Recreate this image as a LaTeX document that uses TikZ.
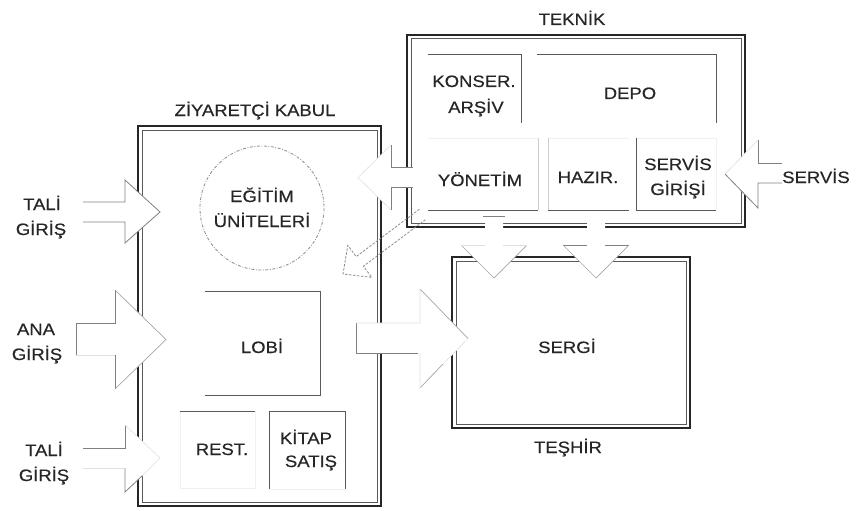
\documentclass[tikz,border=0pt]{standalone}
\usepackage{fontspec}
\setmainfont[FakeStretch=1.12,FakeBold=0.4]{Liberation Sans}
\begin{document}
\begin{tikzpicture}[x=1pt,y=-1pt,
  outerwall/.style={line width=1.8pt, draw=black!85},
  innerwall/.style={line width=1pt, draw=black!65},
  room/.style={line width=0.9pt, draw=black!65},
  faintline/.style={line width=0.6pt, draw=black!6},
  arrowfill/.style={fill=white, draw=none},
  arrowline/.style={line width=0.8pt, draw=black!50, line join=miter},
  arrowmid/.style={line width=0.7pt, draw=black!35},
  arrowfaint/.style={line width=0.6pt, draw=black!12},
  dasharrow/.style={line width=0.8pt, draw=black!45, dash pattern=on 2.5pt off 1.5pt},
  lbl/.style={font=\fontsize{16.5}{19}\selectfont, text=black!85, inner sep=0pt, anchor=base}
]
\useasboundingbox (0,0) rectangle (857,511);
\fill[white] (0,0) rectangle (857,511);

% ---------- walls ----------
\draw[outerwall] (138,126) rectangle (381,506);
\draw[innerwall] (142,130) rectangle (377,502);
\draw[outerwall] (407,35) rectangle (745,227);
\draw[innerwall] (411,39) rectangle (741,223);
\draw[outerwall] (452,257) rectangle (690,428);
\draw[innerwall] (456,261) rectangle (686,424);

% ---------- rooms: Teknik ----------
\draw[room] (428,54) -- (521,54) -- (521,123);
\draw[room] (537,54) -- (716,54) -- (716,123);
\draw[faintline] (428,138) -- (538,138) (548,138) -- (629,138) (636,138) -- (716,138) -- (716,210);
\draw[line width=0.7pt, draw=black!20] (538,138) -- (538,210) (548,138) -- (548,210);
\draw[room] (428,210) -- (538,210);
\draw[room] (548,210) -- (629,210);
\draw[room] (636,138) -- (636,210) -- (716,210);

% ---------- rooms: Ziyaretci ----------
\draw[room] (205,291) -- (320,291) -- (320,395) -- (205,395);
\draw[faintline] (180,411) -- (180,488) -- (255,488) -- (255,411);
\draw[room] (180,411) -- (255,411);
\draw[faintline] (269,489) -- (345,489);
\draw[room] (269,489) -- (269,411) -- (345,411) -- (345,489);
\draw[line width=0.8pt, draw=black!45, dash pattern=on 3pt off 1.6pt on 0.8pt off 1.6pt] (262,208) circle[radius=62];

% ---------- arrows ----------
% upper TALI GIRIS
\fill[arrowfill] (83,202) -- (125,202) -- (125,180) -- (160,212) -- (125,243) -- (125,222) -- (83,222) -- cycle;
\draw[arrowline] (83,202) -- (125,202) -- (125,180) -- (160,212) -- (125,243) -- (125,222) -- (83,222);
% ANA GIRIS
\fill[arrowfill] (76,323) -- (115,323) -- (115,290) -- (166,339.5) -- (115,389) -- (115,355) -- (76,355) -- cycle;
\draw[arrowline] (76,355) -- (76,323) -- (115,323) -- (115,290);
\draw[arrowline] (115,355) -- (115,389);
\draw[arrowmid] (115,290) -- (166,339.5) -- (115,389);
\draw[arrowfaint] (76,355) -- (115,355);
% lower TALI GIRIS
\fill[arrowfill] (83,448) -- (125,448) -- (125,425) -- (160,458) -- (125,492) -- (125,468) -- (83,468) -- cycle;
\draw[arrowline] (83,448) -- (125,448) -- (125,425);
\draw[arrowline] (125,468) -- (125,492) -- (142,476);
\draw[arrowfaint] (125,425) -- (160,458) -- (142,476);
\draw[arrowfaint] (83,468) -- (125,468);
% YONETIM -> Ziyaretci
\fill[arrowfill] (413,167) -- (391,167) -- (391,145) -- (358,177.5) -- (391,210) -- (391,187) -- (413,187) -- cycle;
\draw[arrowline] (413,167) -- (391,167) -- (391,145);
\draw[arrowline] (413,187) -- (391,187) -- (391,210);
\draw[arrowfaint] (391,145) -- (358,177.5) -- (391,210);
% dashed diagonal arrow
\draw[dasharrow] (419.4,209.2) -- (356.2,256.6) -- (347.8,245.4) -- (343,274) -- (371.8,277.4) -- (363.4,266.2) -- (426.6,218.8);
% down arrow 1
\fill[arrowfill] (485,216) -- (503,216) -- (503,245) -- (527,245) -- (494,278) -- (461,245) -- (485,245) -- cycle;
\draw[arrowline] (483,216) -- (505,216);
\draw[arrowmid] (461,245) -- (494,278) -- (527,245);
\draw[arrowfaint] (461,245) -- (485,245) (503,245) -- (527,245);
% down arrow 2
\fill[arrowfill] (587,216) -- (605,216) -- (605,245) -- (629,245) -- (596,278) -- (563,245) -- (587,245) -- cycle;
\draw[arrowline] (563,245) -- (587,245) (605,245) -- (629,245);
\draw[arrowmid] (563,245) -- (596,278) -- (629,245);
% LOBI -> SERGI
\fill[arrowfill] (356,323) -- (420,323) -- (420,289) -- (468,338.5) -- (420,388) -- (420,353) -- (356,353) -- cycle;
\draw[arrowline] (356,323) -- (356,353) -- (418,353);
\draw[arrowmid] (420,289) -- (468,338.5);
\draw[arrowmid] (420,388) -- (443,364);
\draw[arrowfaint] (356,323) -- (420,323) -- (420,289) (420,353) -- (420,388) (443,364) -- (468,338.5);
% SERVIS
\fill[arrowfill] (782,163) -- (758,163) -- (758,140) -- (725,174) -- (758,208) -- (758,183) -- (782,183) -- cycle;
\draw[arrowline] (782,163) -- (758,163) -- (758,140);
\draw[arrowline] (782,183) -- (758,183) -- (758,208) -- (725,174);
\draw[arrowfaint] (758,140) -- (725,174);

% ---------- labels ----------
\node[lbl] (teknik) at (572,25) {TEKNİK};
\node[lbl] (ziyaret) at (255,116) {ZİYARETÇİ KABUL};
\node[lbl] (tali1a) at (42,210) {TALİ};
\node[lbl] (tali1b) at (41,235) {GİRİŞ};
\node[lbl] (anaa) at (36,335) {ANA};
\node[lbl] (anab) at (37,360) {GİRİŞ};
\node[lbl] (tali2a) at (44,456) {TALİ};
\node[lbl] (tali2b) at (44,481) {GİRİŞ};
\node[lbl] (egita) at (262,202) {EĞİTİM};
\node[lbl] (egitb) at (262,227) {ÜNİTELERİ};
\node[lbl] (lobi) at (262,353) {LOBİ};
\node[lbl] (rest) at (222,455) {REST.};
\node[lbl] (kitapa) at (306,444) {KİTAP};
\node[lbl] (kitapb) at (311,467) {SATIŞ};
\node[lbl] (konsa) at (474,87) {KONSER.};
\node[lbl] (konsb) at (476,113) {ARŞİV};
\node[lbl] (depo) at (630,99) {DEPO};
\node[lbl] (yonetim) at (480,186) {YÖNETİM};
\node[lbl] (hazir) at (588,183) {HAZIR.};
\node[lbl] (servgira) at (678,170) {SERVİS};
\node[lbl] (servgirb) at (678,195) {GİRİŞİ};
\node[lbl] (servis) at (816,183) {SERVİS};
\node[lbl] (sergi) at (567,353) {SERGİ};
\node[lbl] (teshir) at (568,453) {TEŞHİR};
\end{tikzpicture}
\end{document}
